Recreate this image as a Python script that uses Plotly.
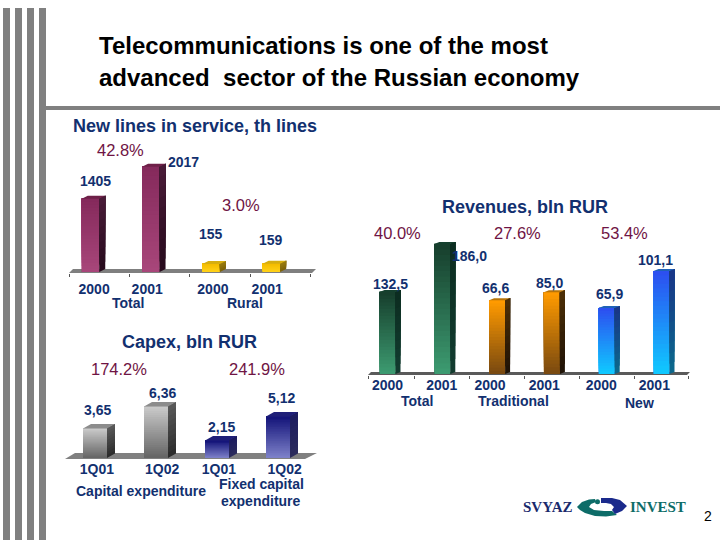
import plotly.graph_objects as go

W, H = 720, 540

# ---------- data ----------
lines_categories = ["Total 2000", "Total 2001", "Rural 2000", "Rural 2001"]
lines_values = [1405, 2017, 155, 159]
lines_value_labels = ["1405", "2017", "155", "159"]
lines_ticks = ["2000", "2001", "2000", "2001"]

revenue_total = [132.5, 186.0]
revenue_traditional = [66.6, 85.0]
revenue_new = [65.9, 101.1]
revenue_labels = ["132,5", "186,0", "66,6", "85,0", "65,9", "101,1"]
revenue_ticks = ["2000", "2001", "2000", "2001", "2000", "2001"]

capex_values = [3.65, 6.36, 2.15, 5.12]
capex_labels = ["3,65", "6,36", "2,15", "5,12"]
capex_ticks = ["1Q01", "1Q02", "1Q01", "1Q02"]

# ---------- styles ----------
NAVY = "#12306f"
MAROON = "#6f1444"
FONT = "Liberation Sans"
GRAY = "#808080"
N_FRONT, N_SIDE = 24, 10

PURPLE = dict(front=("#852a5c", "#a8467a"), side=("#4a1c38", "#260a1c"), top="#6e2048")
YELLOW = dict(front=("#f5bd00", "#ffd21a"), side=("#9a7c10", "#7c6208"), top="#d6ae10")
GREEN = dict(front=("#173f2d", "#3c9a70"), side=("#0c2c20", "#123c30"), top="#15402e")
ORANGE = dict(front=("#ff9a00", "#7a4a10"), side=("#4e2f06", "#1e1206"), top="#b87408")
BLUE = dict(front=("#2c50f0", "#10c8ff"), side=("#1a3488", "#0b6a8c"), top="#1f62b8")
SILVER = dict(front=("#c9c9c9", "#666666"), side=("#5a5a5a", "#2a2a2a"), top="#8c8c8c")
INDIGO = dict(front=("#15157a", "#7c80c8"), side=("#1c1c60", "#2c2c5c"), top="#1f1f78")


def lerp(c1, c2, t):
    a = [int(c1[i:i + 2], 16) for i in (1, 3, 5)]
    b = [int(c2[i:i + 2], 16) for i in (1, 3, 5)]
    return "#%02x%02x%02x" % tuple(round(p + (q - p) * t) for p, q in zip(a, b))


def px(x):
    return x / W


def py(y):
    return 1 - y / H


fig = go.Figure()
layout_axes = {}


def make_panel(xname, yname, x0, x1, y_top, y_bottom, first_center, spacing,
               tick_pos, tick_text, standoff, edges):
    layout_axes[f"xaxis{xname}"] = dict(
        domain=[px(x0), px(x1)],
        range=[(x0 - first_center) / spacing, (x1 - first_center) / spacing],
        anchor=f"y{yname}", showgrid=False, zeroline=False, showline=False,
        tickmode="array", tickvals=tick_pos, ticktext=[f"<b>{t}</b>" for t in tick_text],
        ticks="", ticklabelstandoff=standoff,
        tickfont=dict(family=FONT, size=14, color=NAVY),
        minor=dict(tickmode="array", tickvals=edges, ticks="outside", ticklen=3,
                   tickcolor="#555555", tickwidth=1),
    )


def make_y(yname, xname, y_top, y_bottom, y_base, low, unit, overlay=None):
    # unit: data units per pixel, low: data value sitting on the floor
    ax = dict(
        domain=[py(y_bottom), py(y_top)],
        range=[low - (y_bottom - y_base) * unit, low + (y_base - y_top) * unit],
        anchor=f"x{xname}", visible=False, showgrid=False, zeroline=False,
    )
    if overlay:
        ax["overlaying"] = overlay
    layout_axes[f"yaxis{yname}"] = ax


def add_bar(xname, yname, i, value, low, unit, spacing, width_px, dep_x, dep_y, style, name):
    w = width_px / spacing
    h = value - low
    ax, ay = f"x{xname}", f"y{yname}"
    fig.add_trace(go.Bar(x=[i], y=[h], base=[low], width=w, name=name, xaxis=ax, yaxis=ay,
                         marker=dict(color=style["front"][0], line=dict(width=0)),
                         showlegend=False, hoverinfo="skip"))
    cols = [lerp(style["front"][1], style["front"][0], k / (N_FRONT - 1)) for k in range(N_FRONT)]
    # each gradient band runs from its own level up to the bar's top, later bands paint over it
    bases = [low + k * h / N_FRONT for k in range(N_FRONT)]
    fig.add_trace(go.Bar(x=[i] * N_FRONT, y=[value - b for b in bases], base=bases,
                         width=w, xaxis=ax, yaxis=ay,
                         marker=dict(color=cols, line=dict(width=0)),
                         showlegend=False, hoverinfo="skip"))
    dx, dy = dep_x / spacing, dep_y * unit
    r = i + w / 2
    l = i - w / 2
    for k in range(N_SIDE):
        a = low + k * h / N_SIDE
        fig.add_trace(go.Scatter(
            x=[r, r + dx, r + dx, r, r], y=[a, a + dy, value + dy, value, a],
            fill="toself", mode="lines", line=dict(width=0),
            fillcolor=lerp(style["side"][0], style["side"][1], 1 - (k + 0.5) / N_SIDE),
            xaxis=ax, yaxis=ay, showlegend=False, hoverinfo="skip"))
    fig.add_trace(go.Scatter(
        x=[l, r, r + dx, l + dx, l], y=[value, value, value + dy, value + dy, value],
        fill="toself", mode="lines", line=dict(width=0), fillcolor=style["top"],
        xaxis=ax, yaxis=ay, showlegend=False, hoverinfo="skip"))


# ---------- panel 1: new lines ----------
U1 = 1 / 0.0522
make_panel("", "", 69, 316, 150, 273, 90.5, 60.3,
           [0.06, 0.94, 2.03, 2.93], lines_ticks, 6, [-0.35, 0.64, 1.65, 2.65, 3.65])
make_y("", "", 150, 273, 272, 0, U1)
for i, (c, v) in enumerate(zip(lines_categories, lines_values)):
    add_bar("", "", i, v, 0, U1, 60.3, 17.5, 6, 3, PURPLE if i < 2 else YELLOW, c)

# ---------- panel 2: revenues (three scales on one x axis) ----------
make_panel("2", "2", 368, 690, 225, 375, 387.5, 54.8,
           [0.0, 0.99, 1.87, 2.86, 3.9, 4.87], revenue_ticks, 0,
           [-0.35, 0.5, 1.5, 2.5, 3.5, 4.5, 5.5])
SCALES = [(41.0, 1 / 0.897), (-103.0, 1 / 0.435), (3.0, 1 / 1.05)]
make_y("2", "2", 225, 375, 374, SCALES[0][0], SCALES[0][1])
make_y("3", "2", 225, 375, 374, SCALES[1][0], SCALES[1][1], overlay="y2")
make_y("4", "2", 225, 375, 374, SCALES[2][0], SCALES[2][1], overlay="y2")
for j, (vals, style, nm) in enumerate([(revenue_total, GREEN, "Total"),
                                       (revenue_traditional, ORANGE, "Traditional"),
                                       (revenue_new, BLUE, "New")]):
    for k, v in enumerate(vals):
        add_bar("2", str(j + 2), 2 * j + k, v, SCALES[j][0], SCALES[j][1], 54.8, 16, 5, 2, style,
                f"{nm} {2000 + k}")

# ---------- panel 3: capex ----------
U3 = 1 / 8.1
make_panel("3", "5", 65, 318, 395, 459, 95, 61,
           [0.03, 1.1, 2.03, 3.11], capex_ticks, 0, [])
make_y("5", "3", 395, 459, 458, 0, U3)
for i, v in enumerate(capex_values):
    add_bar("3", "5", i, v, 0, U3, 61, 24, 8, 4.5, SILVER if i < 2 else INDIGO, capex_ticks[i])

# ---------- text ----------
annotations = []


def text(x, y, s, size=14, color=NAVY, bold=False, family=FONT, anchor="center"):
    annotations.append(dict(
        x=px(x), y=py(y), xref="paper", yref="paper", text=f"<b>{s}</b>" if bold else s,
        showarrow=False, xanchor=anchor, yanchor="middle",
        font=dict(family=family, size=size, color=color)))


text(97, 45, "Telecommunications is one of the most", 24, "#000000", True, anchor="left")
text(97, 77, "advanced  sector of the Russian economy", 24, "#000000", True, anchor="left")

text(195, 126, "New lines in service, th lines", 18, NAVY, True)
text(120, 150, "42.8%", 16.5, MAROON)
text(241, 205, "3.0%", 16.5, MAROON)
for (x, y), s in zip([(95, 181), (183, 162), (211, 234), (271, 240)], lines_value_labels):
    text(x, y, s, 14, bold=True)
text(128, 303, "Total", bold=True)
text(245, 303, "Rural", bold=True)

text(525, 207, "Revenues, bln RUR", 18, NAVY, True)
for x, s in zip([397, 517, 624], ["40.0%", "27.6%", "53.4%"]):
    text(x, 233, s, 16.5, MAROON)
for (x, y), s in zip([(391, 284), (469, 256), (495, 288), (549, 283), (609, 294), (655, 260)],
                     revenue_labels):
    text(x, y, s, 14, bold=True)
text(417, 401, "Total", bold=True)
text(513, 401, "Traditional", bold=True)
text(639, 403, "New", bold=True)

text(189, 342, "Capex, bln RUR", 18, NAVY, True)
text(119, 369, "174.2%", 16.5, MAROON)
text(257, 369, "241.9%", 16.5, MAROON)
for (x, y), s in zip([(98, 410), (162, 393), (221, 427), (281, 398)], capex_labels):
    text(x, y, s, 14, bold=True)
text(141, 491, "Capital expenditure", 14, bold=True)
text(261, 484, "Fixed capital", 14, bold=True)
text(261, 501, "expenditure", 14, bold=True)

text(547, 507, "SVYAZ", 15, "#1a2a6c", True, "Liberation Serif")
text(658, 507, "INVEST", 15, "#0d6c68", True, "Liberation Serif")
text(708, 516, "2", 14, "#000000")


# ---------- decoration ----------
def rect(x0, y0, x1, y1, color):
    return dict(type="rect", xref="paper", yref="paper", x0=px(x0), x1=px(x1),
                y0=py(y0), y1=py(y1), fillcolor=color, line=dict(width=0), layer="below")


def poly(points, color):
    d = "M " + " L ".join(f"{px(a):.5f},{py(b):.5f}" for a, b in points) + " Z"
    return dict(type="path", xref="paper", yref="paper", path=d, fillcolor=color,
                line=dict(width=0), layer="below")


shapes = [rect(x, 8, x + 7, 540, GRAY) for x in (3, 15, 27, 39)]
shapes.append(rect(46, 106, 720, 110, GRAY))
shapes.append(poly([(69, 273), (73, 269), (316, 269), (312, 273)], "#7f7f7f"))
shapes.append(poly([(368, 375), (371, 372), (690, 372), (687, 375)], "#5a5a5a"))
shapes.append(poly([(65, 459), (75, 453), (317, 453), (305, 459)], "#808080"))

# logo swoosh
shapes.append(poly([(577, 507), (582, 502), (589, 499.5), (595, 499), (596, 502), (591, 504),
                    (589, 507), (594, 510), (604, 511), (612, 511), (617, 515), (606, 516.5),
                    (595, 516), (585, 513), (580, 510)], "#0d6c68"))
shapes.append(poly([(601, 498), (612, 498), (620, 500), (627, 506), (622, 511), (615, 514),
                    (612, 510), (614, 507), (611, 504), (606, 503), (601, 503)], "#1a2a8c"))
shapes.append(dict(type="circle", xref="paper", yref="paper", x0=px(595), x1=px(600),
                   y0=py(504.2), y1=py(499.2), fillcolor="#0d6c68", line=dict(width=0),
                   layer="below"))

fig.update_layout(
    width=W, height=H, margin=dict(l=0, r=0, t=0, b=0, pad=0),
    paper_bgcolor="white", plot_bgcolor="rgba(0,0,0,0)",
    barmode="overlay", showlegend=False, font=dict(family=FONT),
    annotations=annotations, shapes=shapes, **layout_axes,
)
fig.write_html("out.html", config=dict(displayModeBar=False),
               post_script="document.body.style.margin='0';document.body.style.overflow='hidden';")
